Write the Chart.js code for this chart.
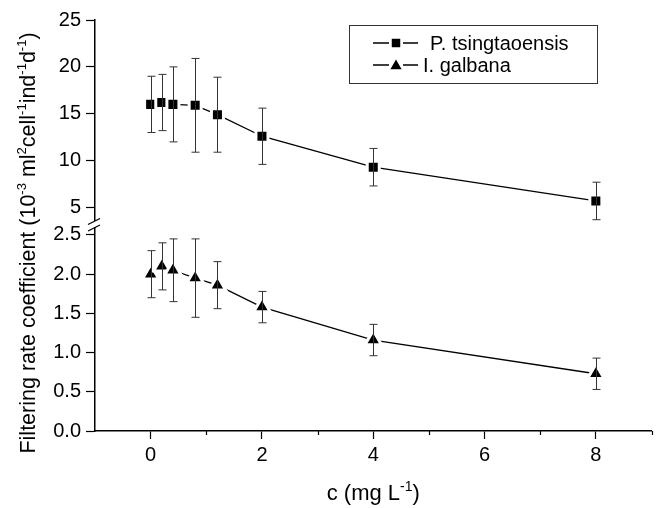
<!DOCTYPE html>
<html>
<head>
<meta charset="utf-8">
<script src="https://cdn.jsdelivr.net/npm/chart.js@4.4.1/dist/chart.umd.min.js"></script>
<style>
  html, body { margin: 0; padding: 0; background: #fff; }
  #wrap { position: relative; width: 664px; height: 508px; }
</style>
</head>
<body>
<div id="wrap"><canvas id="chart"></canvas></div>
<script>
// concentration (mg L-1) and filtering rate coefficients
const concentrations = [0, 0.2, 0.4, 0.8, 1.2, 2, 4, 8];
const tsingtaoMean = [16.0, 16.2, 16.0, 15.9, 14.9, 12.6, 9.3, 5.7];
const tsingtaoErr = [3, 3, 4, 5, 4, 3, 2, 2];
const galbanaMean = [2.0, 2.1, 2.05, 1.95, 1.86, 1.58, 1.16, 0.73];
const galbanaErr = [0.3, 0.3, 0.4, 0.5, 0.3, 0.2, 0.2, 0.2];
const seriesNames = ['P. tsingtaoensis', 'I. galbana'];
const upperTicks = [5, 10, 15, 20, 25];
const lowerTicks = [0, 0.5, 1.0, 1.5, 2.0, 2.5];
const xLabelTicks = [0, 2, 4, 6, 8];
const xMinorTicks = [1, 3, 5, 7, 9];

const FONT = "'Liberation Sans', Arial, sans-serif";
Chart.defaults.font.family = FONT;
Chart.defaults.color = '#000';

// draws text with superscript pieces, centred on (0,0) of current transform
function drawRichText(ctx, parts, size) {
  const supSize = Math.round(size * 0.62);
  let total = 0;
  parts.forEach(p => {
    ctx.font = `${p.sup ? supSize : size}px ${FONT}`;
    p.w = ctx.measureText(p.t).width;
    total += p.w;
  });
  let x = -total / 2;
  parts.forEach(p => {
    ctx.font = `${p.sup ? supSize : size}px ${FONT}`;
    ctx.fillText(p.t, x, p.sup ? -size * 0.42 : 0);
    x += p.w;
  });
}

const errorBars = {
  id: 'errorBars',
  afterDatasetsDraw(chart) {
    const ctx = chart.ctx;
    const xs = chart.scales.x;
    ctx.save();
    ctx.strokeStyle = '#333';
    ctx.lineWidth = 1;
    chart.data.datasets.forEach(ds => {
      const ys = chart.scales[ds.yAxisID];
      ds.data.forEach((pt, i) => {
        const err = ds.errorBars[i];
        const px = Math.round(xs.getPixelForValue(pt.x)) + 0.5;
        const top = ys.getPixelForValue(pt.y + err);
        const bot = ys.getPixelForValue(pt.y - err);
        ctx.beginPath();
        ctx.moveTo(px, top); ctx.lineTo(px, bot);
        ctx.moveTo(px - 4, top); ctx.lineTo(px + 4, top);
        ctx.moveTo(px - 4, bot); ctx.lineTo(px + 4, bot);
        ctx.stroke();
      });
    });
    ctx.restore();
  }
};

const decorations = {
  id: 'decorations',
  afterDraw(chart) {
    const ctx = chart.ctx;
    const xs = chart.scales.x;
    const axisX = chart.chartArea.left;
    const axisY = xs.top;
    ctx.save();

    // minor ticks on x
    ctx.strokeStyle = '#000';
    ctx.lineWidth = 1.2;
    xMinorTicks.forEach(v => {
      const px = Math.round(xs.getPixelForValue(v)) + 0.5;
      ctx.beginPath();
      ctx.moveTo(px, axisY); ctx.lineTo(px, axisY + 4);
      ctx.stroke();
    });

    // axis break
    const yb = chart.scales.yUp.bottom;
    ctx.fillStyle = '#fff';
    ctx.fillRect(axisX - 3, yb - 3, 6, 6);
    ctx.strokeStyle = '#000';
    ctx.lineWidth = 1.3;
    ctx.beginPath();
    ctx.moveTo(axisX - 7, yb + 0.5); ctx.lineTo(axisX + 5, yb - 5.5);
    ctx.moveTo(axisX - 7, yb + 7); ctx.lineTo(axisX + 5, yb + 1);
    ctx.stroke();

    // axis titles
    ctx.fillStyle = '#000';
    ctx.textBaseline = 'alphabetic';
    ctx.save();
    ctx.translate(35, 243);
    ctx.rotate(-Math.PI / 2);
    drawRichText(ctx, [
      { t: 'Filtering rate coefficient (10' }, { t: '-3', sup: true },
      { t: ' ml' }, { t: '2', sup: true }, { t: 'cell' }, { t: '-1', sup: true },
      { t: 'ind' }, { t: '-1', sup: true }, { t: 'd' }, { t: '-1', sup: true }, { t: ')' }
    ], 21.5);
    ctx.restore();
    ctx.save();
    ctx.translate((chart.chartArea.left + chart.chartArea.right) / 2, 500);
    drawRichText(ctx, [{ t: 'c (mg L' }, { t: '-1', sup: true }, { t: ')' }], 22);
    ctx.restore();

    // legend
    ctx.strokeStyle = '#333';
    ctx.lineWidth = 1;
    ctx.strokeRect(349.5, 25.5, 248, 58);
    const rows = [
      { y: 43, style: 'rect', r: 6, textX: 430 },
      { y: 65, style: 'triangle', r: 6.5, textX: 423 }
    ];
    rows.forEach((row, i) => {
      ctx.strokeStyle = '#000';
      ctx.lineWidth = 1.3;
      ctx.beginPath();
      ctx.moveTo(373, row.y); ctx.lineTo(389, row.y);
      ctx.moveTo(403, row.y); ctx.lineTo(418, row.y);
      ctx.stroke();
      ctx.fillStyle = '#000';
      Chart.helpers.drawPoint(ctx, { pointStyle: row.style, radius: row.r, borderWidth: 0, rotation: 0 }, 396, row.y + (row.style === 'triangle' ? 1 : 0));
      ctx.font = `20px ${FONT}`;
      ctx.textBaseline = 'middle';
      ctx.textAlign = 'left';
      ctx.fillText(seriesNames[i], row.textX, row.y + 1);
    });
    ctx.restore();
  }
};

const tickFont = { size: 20, family: FONT };

new Chart(document.getElementById('chart'), {
  type: 'line',
  data: {
    datasets: [
      {
        label: seriesNames[0],
        data: concentrations.map((x, i) => ({ x, y: tsingtaoMean[i] })),
        errorBars: tsingtaoErr,
        yAxisID: 'yUp',
        borderColor: '#000',
        borderWidth: 1.3,
        pointStyle: 'rect',
        pointRadius: 8.5,
        pointBackgroundColor: '#000',
        pointBorderColor: '#fff',
        pointBorderWidth: 3,
        tension: 0
      },
      {
        label: seriesNames[1],
        data: concentrations.map((x, i) => ({ x, y: galbanaMean[i] })),
        errorBars: galbanaErr,
        yAxisID: 'yLow',
        borderColor: '#000',
        borderWidth: 1.3,
        pointStyle: 'triangle',
        pointRadius: 9.5,
        pointBackgroundColor: '#000',
        pointBorderColor: '#fff',
        pointBorderWidth: 3,
        tension: 0
      }
    ]
  },
  options: {
    responsive: true,
    maintainAspectRatio: false,
    animation: false,
    devicePixelRatio: 1,
    layout: { padding: { top: 20, right: 11, left: 0, bottom: 0 } },
    plugins: { legend: { display: false }, tooltip: { enabled: false } },
    scales: {
      x: {
        type: 'linear',
        min: -1,
        max: 9,
        ticks: {
          stepSize: 1,
          autoSkip: false,
          maxRotation: 0,
          font: tickFont,
          padding: 4,
          callback: v => xLabelTicks.includes(v) ? String(v) : ''
        },
        grid: {
          drawOnChartArea: false,
          tickLength: 8,
          tickWidth: 1.2,
          tickColor: c => (c.tick && xLabelTicks.includes(c.tick.value)) ? '#000' : 'rgba(0,0,0,0)'
        },
        border: { color: '#000', width: 1.5 },
        afterFit: s => { s.height = 77; }
      },
      yLow: {
        type: 'linear',
        position: 'left',
        stack: 'y',
        stackWeight: 207,
        min: 0,
        max: 2.64,
        afterBuildTicks: s => { s.ticks = lowerTicks.map(v => ({ value: v })); },
        ticks: { font: tickFont, padding: 5, autoSkip: false, callback: v => Number(v).toFixed(1) },
        grid: { drawOnChartArea: false, tickLength: 9, tickWidth: 1.2, tickColor: '#000' },
        border: { color: '#000', width: 1.5 },
        afterFit: s => { s.width = 95; }
      },
      yUp: {
        type: 'linear',
        position: 'left',
        stack: 'y',
        stackWeight: 204,
        min: 3.24,
        max: 25,
        afterBuildTicks: s => { s.ticks = upperTicks.map(v => ({ value: v })); },
        ticks: { font: tickFont, padding: 5, autoSkip: false, callback: v => String(v) },
        grid: { drawOnChartArea: false, tickLength: 9, tickWidth: 1.2, tickColor: '#000' },
        border: { color: '#000', width: 1.5 },
        afterFit: s => { s.width = 95; }
      }
    }
  },
  plugins: [errorBars, decorations]
});
</script>
</body>
</html>
